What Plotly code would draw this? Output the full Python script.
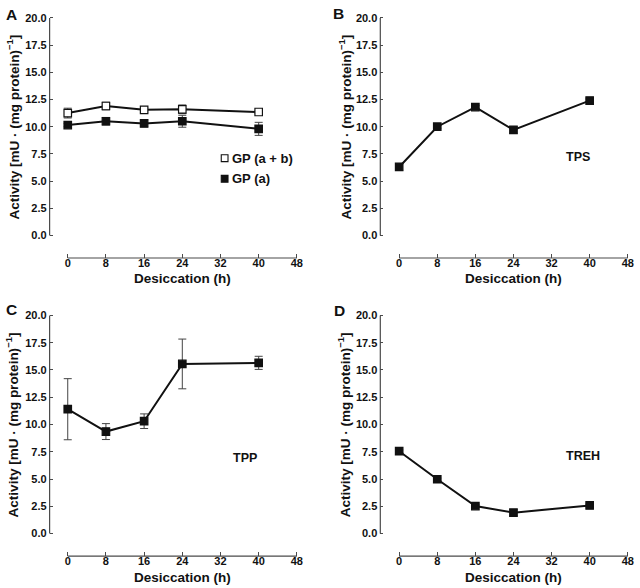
import plotly.graph_objects as go

W, H = 640, 588
FONT = "Liberation Sans"

# ---------------- data ----------------
hours = [0, 8, 16, 24, 40]

gp_ab = [11.25, 11.9, 11.55, 11.6, 11.35]
gp_ab_err = [0.45, 0.35, 0.2, 0.4, 0.15]
gp_a = [10.15, 10.5, 10.3, 10.5, 9.8]
gp_a_err = [0.15, 0.35, 0.3, 0.55, 0.6]

tps = [6.3, 10.0, 11.8, 9.7, 12.4]
tps_err = [0.3, 0.15, 0.15, 0.3, 0.15]

tpp = [11.4, 9.35, 10.3, 15.55, 15.65]
tpp_err = [2.8, 0.73, 0.67, 2.28, 0.6]

treh = [7.55, 4.98, 2.52, 1.92, 2.58]
treh_err = [0.12, 0.1, 0.12, 0.3, 0.12]

x_ticks = [0, 8, 16, 24, 32, 40, 48]
x_ticklabels = ["0", "8", "16", "24", "32", "40", "48"]
y_ticks = [0, 2.5, 5, 7.5, 10, 12.5, 15, 17.5, 20]
y_ticklabels = ["0.0", "2.5", "5.0", "7.5", "10.0", "12.5", "15.0", "17.5", "20.0"]

panel_letters = ["A", "B", "C", "D"]
panel_names = [None, "TPS", "TPP", "TREH"]
legend_names = ["GP (a + b)", "GP (a)"]

x_title = "Desiccation (h)"
y_title = "Activity [mU · (mg protein)<sup>−1</sup>]"

# ---------------- layout geometry (pixels) ----------------
def px_x(p):
    return p / W

def px_y(p):
    return 1 - p / H

panels = [
    dict(l=50.0, r=300.4, t=11.7, b=256.3, xr=[-3.8, 48.25], yr=[-2.07, 20.3]),
    dict(l=383.3, r=633.9, t=11.7, b=256.3, xr=[-3.96, 48.25], yr=[-2.07, 20.3]),
    dict(l=50.0, r=300.4, t=310.7, b=556.0, xr=[-3.8, 48.25], yr=[-2.07, 20.3]),
    dict(l=383.3, r=633.9, t=310.7, b=556.0, xr=[-3.96, 48.25], yr=[-2.07, 20.3]),
]

fig = go.Figure()

AX_COLOR = "#4a4a4a"
LINE_COLOR = "#111111"
ERR_COLOR = "#444444"

def add_series(i, y, err, filled=True):
    sfx = "" if i == 0 else str(i + 1)
    fig.add_trace(go.Scatter(
        x=hours, y=y,
        mode="lines+markers",
        xaxis="x" + sfx, yaxis="y" + sfx,
        line=dict(color=LINE_COLOR, width=2),
        marker=dict(symbol="square", size=7.5,
                    color=LINE_COLOR if filled else "white",
                    line=dict(color=LINE_COLOR, width=1.2)),
        error_y=dict(type="data", array=err, visible=True,
                     color=ERR_COLOR, thickness=1, width=4),
        showlegend=False, hoverinfo="x+y",
    ))

add_series(0, gp_ab, gp_ab_err, filled=False)
add_series(0, gp_a, gp_a_err, filled=True)
add_series(1, tps, tps_err)
add_series(2, tpp, tpp_err)
add_series(3, treh, treh_err)

layout = dict(
    width=W, height=H,
    margin=dict(l=0, r=0, t=0, b=0),
    paper_bgcolor="white", plot_bgcolor="white",
    font=dict(family=FONT, color="#111111"),
    showlegend=False,
)

shapes = []
annotations = []

for i, p in enumerate(panels):
    sfx = "" if i == 0 else str(i + 1)
    xa = "xaxis" + sfx
    ya = "yaxis" + sfx
    layout[xa] = dict(
        domain=[px_x(p["l"]), px_x(p["r"])],
        range=p["xr"], anchor="y" + sfx,
        showgrid=False, zeroline=False, showline=False,
        tickmode="array", tickvals=x_ticks, ticktext=x_ticklabels,
        ticks="inside", ticklen=4, tickwidth=1, tickcolor=AX_COLOR,
        tickfont=dict(family=FONT, size=11, weight="bold", color="#111111"),
        ticklabelstandoff=-3,
        fixedrange=True,
    )
    layout[ya] = dict(
        domain=[px_y(p["b"]), px_y(p["t"])],
        range=p["yr"], anchor="x" + sfx,
        showgrid=False, zeroline=False, showline=False,
        tickmode="array", tickvals=y_ticks, ticktext=y_ticklabels,
        ticks="inside", ticklen=3, tickwidth=1, tickcolor=AX_COLOR,
        tickfont=dict(family=FONT, size=11, weight="bold", color="#111111"),
        ticklabelstandoff=2,
        fixedrange=True,
    )
    shapes.append(dict(type="line", xref="x" + sfx + " domain", yref="y" + sfx,
                       x0=0, x1=0, y0=y_ticks[0], y1=y_ticks[-1],
                       line=dict(color=AX_COLOR, width=1.2)))
    shapes.append(dict(type="line", xref="x" + sfx, yref="y" + sfx + " domain",
                       x0=x_ticks[0], x1=x_ticks[-1], y0=0, y1=0,
                       line=dict(color=AX_COLOR, width=1.2)))
    span = p["xr"][1] - p["xr"][0]
    x0px = p["l"] + (0 - p["xr"][0]) / span * (p["r"] - p["l"])
    x48px = p["l"] + (48 - p["xr"][0]) / span * (p["r"] - p["l"])
    xc = (x0px + x48px) / 2
    annotations.append(dict(text=x_title, xref="paper", yref="paper",
                            x=px_x(xc), y=px_y(p["b"] + 21),
                            xanchor="center", yanchor="middle", showarrow=False,
                            font=dict(family=FONT, size=13.5, weight="bold", color="#111111")))
    ytitle_x = 13 if i in (0, 2) else 347.5
    yspan = p["yr"][1] - p["yr"][0]
    y20px = p["t"] + (p["yr"][1] - 20) / yspan * (p["b"] - p["t"])
    y0px = p["t"] + (p["yr"][1] - 0) / yspan * (p["b"] - p["t"])
    yc = (y20px + y0px) / 2
    annotations.append(dict(text=y_title, xref="paper", yref="paper",
                            x=px_x(ytitle_x), y=px_y(yc), textangle=-90,
                            xanchor="center", yanchor="middle", showarrow=False,
                            font=dict(family=FONT, size=13.5, weight="bold", color="#111111")))

letter_pos = [(11.3, 11.2), (341.3, 10.5), (11.7, 308), (341.7, 309)]
for L, (lx, ly) in zip(panel_letters, letter_pos):
    annotations.append(dict(text=L, xref="paper", yref="paper",
                            x=px_x(lx), y=px_y(ly), xanchor="center", yanchor="middle",
                            showarrow=False,
                            font=dict(family=FONT, size=15.5, weight="bold", color="#111111")))

name_pos = [None, (583, 155), (246.7, 457.3), (588, 455)]
for nm, pos in zip(panel_names, name_pos):
    if nm is None:
        continue
    annotations.append(dict(text=nm, xref="paper", yref="paper",
                            x=px_x(pos[0]), y=px_y(pos[1]), xanchor="center", yanchor="middle",
                            showarrow=False,
                            font=dict(family=FONT, size=12.5, weight="bold", color="#111111")))

leg_rows = [(156.0, "white"), (176.7, LINE_COLOR)]
for name, (ly, fill) in zip(legend_names, leg_rows):
    shapes.append(dict(type="rect", xref="paper", yref="paper",
                       x0=px_x(223.0), x1=px_x(229.8), y0=px_y(ly + 3.4), y1=px_y(ly - 3.4),
                       fillcolor=fill, line=dict(color=LINE_COLOR, width=1.1)))
    annotations.append(dict(text=name, xref="paper", yref="paper",
                            x=px_x(232.0), y=px_y(ly), xanchor="left", yanchor="middle",
                            showarrow=False,
                            font=dict(family=FONT, size=13, weight="bold", color="#111111")))

layout["shapes"] = shapes
layout["annotations"] = annotations
fig.update_layout(**layout)

fig.write_html("out.html",
               config={"displayModeBar": False},
               post_script="document.body.style.margin='0px';document.body.style.overflow='hidden';")
